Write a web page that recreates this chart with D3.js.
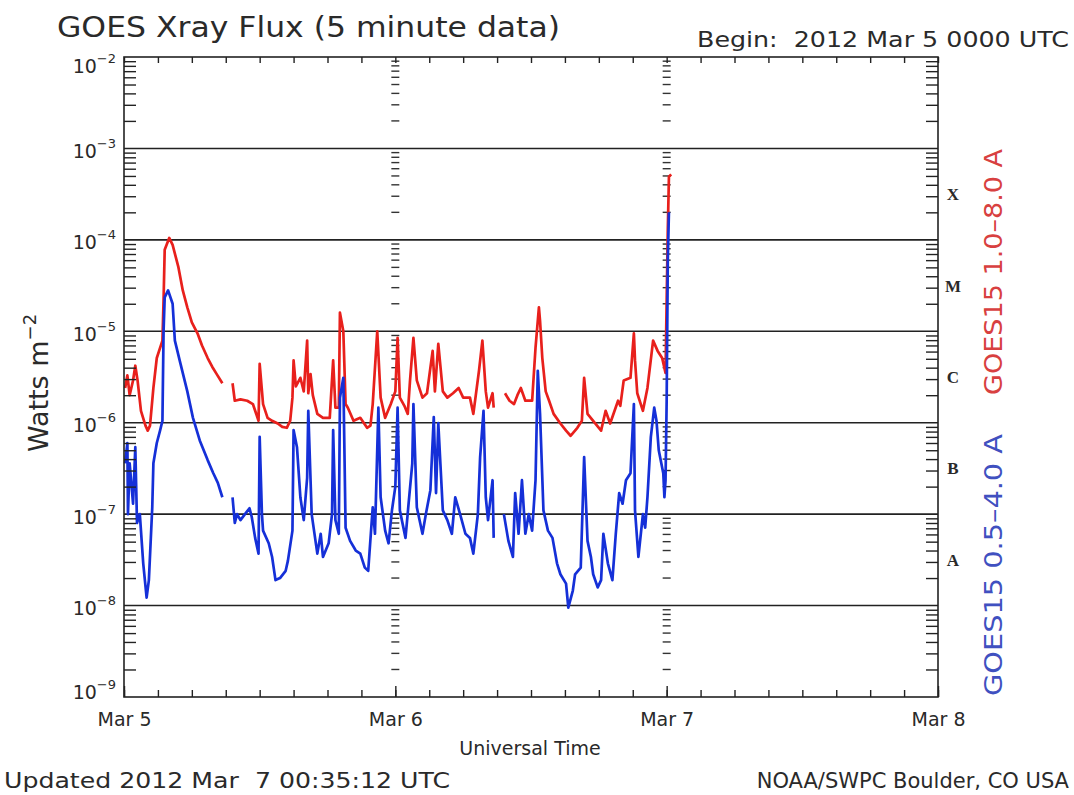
<!DOCTYPE html>
<html lang="en">
<head>
<meta charset="UTF-8">
<title>GOES Xray Flux</title>
<script src="https://cdn.jsdelivr.net/npm/d3@7"></script>
<style>
  body { margin: 0; background: #fff; }
  svg { display: block; font-family: "DejaVu Sans", sans-serif; }
  text { fill: #2a2a2a; white-space: pre; }
</style>
</head>
<body>
<svg width="1074" height="795"></svg>
<script>
// hours after 2012 Mar 5 00:00 UTC, flux in W m-2 (null = data gap)
var longHours = [0.1,0.3,0.5,0.8,1.0,1.2,1.5,1.9,2.1,2.3,
  2.6,2.9,3.4,3.5,3.6,4.0,4.3,4.8,5.2,5.6,
  6.0,6.5,6.9,7.4,7.8,8.2,8.7,9.0,9.6,9.8,
  10.3,10.9,11.4,11.9,12.0,12.3,12.7,13.1,13.6,14.0,
  14.4,14.7,14.9,15.0,15.2,15.6,15.9,16.2,16.3,16.5,
  16.7,17.1,17.6,18.2,18.5,18.7,19.0,19.1,19.4,19.6,
  19.8,20.3,20.9,21.5,21.8,22.0,22.4,22.7,23.1,23.6,
  24.0,24.2,24.4,24.8,25.1,25.3,25.6,25.9,26.4,26.8,
  27.3,27.5,27.8,28.2,28.6,29.1,29.6,30.0,30.6,30.9,
  31.4,31.7,32.0,32.2,32.6,32.7,33.0,33.7,34.1,34.5,
  34.8,35.1,35.5,36.1,36.4,36.7,36.8,37.0,37.3,37.6,
  38.0,38.6,39.1,39.5,40.1,40.5,40.7,41.0,41.5,42.2,
  42.6,43.0,43.7,43.9,44.2,44.8,45.1,45.2,45.4,45.9,
  46.3,46.8,47.2,47.6,47.9,48.0,48.1,48.2,48.4]
var longFlux = [2.4e-6,3.3e-6,2.0e-6,2.9e-6,4.2e-6,2.9e-6,1.35e-6,9.3e-7,8.2e-7,9.3e-7,
  2.4e-6,5.1e-6,7.9e-6,2.2e-5,7.8e-5,1.05e-4,8.8e-5,5.1e-5,2.8e-5,1.83e-5,
  1.25e-5,9.5e-6,7.0e-6,5.1e-6,4.1e-6,3.4e-6,2.7e-6,null,2.7e-6,1.74e-6,
  1.8e-6,1.74e-6,1.6e-6,1.05e-6,4.4e-6,1.6e-6,1.13e-6,1.05e-6,9.8e-7,9.0e-7,
  8.8e-7,1.05e-6,1.88e-6,4.8e-6,2.5e-6,3.1e-6,2.2e-6,7.9e-6,2.1e-6,3.4e-6,
  2.0e-6,1.25e-6,1.13e-6,1.13e-6,4.8e-6,1.46e-6,1.46e-6,1.6e-5,1.0e-5,1.6e-6,
  1.46e-6,1.05e-6,1.13e-6,8.8e-7,9.3e-7,1.6e-6,1.0e-5,1.88e-6,1.13e-6,1.6e-6,
  2.2e-6,8.5e-6,1.88e-6,1.53e-6,1.25e-6,2.9e-6,8.5e-6,2.9e-6,1.88e-6,2.1e-6,
  6.1e-6,2.2e-6,7.3e-6,2.2e-6,1.88e-6,2.1e-6,2.4e-6,1.88e-6,1.88e-6,1.25e-6,
  3.7e-6,7.9e-6,2.2e-6,1.46e-6,2.1e-6,1.46e-6,null,2.1e-6,1.74e-6,1.6e-6,
  2.0e-6,2.4e-6,1.74e-6,1.74e-6,6.6e-6,1.83e-5,1.3e-5,5.1e-6,2.2e-6,1.74e-6,
  1.25e-6,9.8e-7,8.2e-7,7.2e-7,8.8e-7,1.05e-6,3.1e-6,1.25e-6,1.05e-6,8.2e-7,
  1.35e-6,9.8e-7,1.74e-6,1.53e-6,2.9e-6,3.1e-6,9.5e-6,4.8e-6,2.1e-6,1.35e-6,
  2.4e-6,7.9e-6,6.1e-6,5.1e-6,3.5e-6,2.2e-5,1.29e-4,4.9e-4,5.2e-4]

var shortHours = [0.1,0.3,0.35,0.5,0.8,1.0,1.15,1.4,1.7,2.0,
  2.2,2.5,2.6,2.9,3.2,3.4,3.5,3.6,3.9,4.3,
  4.5,5.0,5.6,6.1,6.7,7.4,7.9,8.3,8.7,9.0,
  9.6,9.8,10.0,10.3,10.7,11.1,11.3,11.6,11.9,12.0,
  12.2,12.3,12.8,13.1,13.4,13.8,14.3,14.5,14.9,15.0,
  15.3,15.6,15.9,16.2,16.3,16.6,17.1,17.4,17.6,18.1,
  18.4,18.5,18.7,19.0,19.1,19.4,19.6,20.0,20.5,20.9,
  21.3,21.6,22.0,22.2,22.5,22.7,23.1,23.4,23.7,24.0,
  24.2,24.4,24.9,25.2,25.5,25.6,25.9,26.4,26.7,27.1,
  27.4,27.6,27.8,28.2,28.6,29.0,29.3,29.8,30.2,30.6,
  30.9,31.3,31.5,31.8,32.0,32.2,32.6,32.7,33.0,33.6,
  34.0,34.4,34.6,34.9,35.2,35.5,35.8,36.1,36.4,36.6,
  36.8,37.1,37.5,37.9,38.3,38.6,39.1,39.3,39.7,39.9,
  40.4,40.7,41.0,41.3,41.5,41.9,42.2,42.4,42.8,43.2,
  43.5,43.8,44.1,44.4,44.8,45.1,45.2,45.5,45.9,46.1,
  46.3,46.6,46.9,47.1,47.3,47.7,47.8,47.9,48.0,48.1,
  48.2]
var shortFlux = [3.6e-7,6.0e-7,1.0e-7,3.6e-7,1.3e-7,5.4e-7,8.0e-8,1.0e-7,2.9e-8,1.22e-8,
  1.9e-8,1.19e-7,3.6e-7,6.0e-7,8.3e-7,1.05e-6,1.0e-5,2.35e-5,2.8e-5,2.0e-5,
  7.9e-6,4.4e-6,2.2e-6,1.13e-6,6.4e-7,3.9e-7,2.8e-7,2.2e-7,1.53e-7,null,
  1.53e-7,8.0e-8,1.0e-7,8.6e-8,1.0e-7,1.16e-7,9.3e-8,5.5e-8,3.7e-8,7.0e-7,
  1.0e-7,6.6e-8,4.8e-8,3.4e-8,1.9e-8,2.0e-8,2.4e-8,3.1e-8,6.6e-8,8.3e-7,
  5.4e-7,1.53e-7,8.6e-8,2.5e-7,1.35e-6,1.0e-7,3.7e-8,6.1e-8,3.4e-8,4.8e-8,
  1.0e-7,8.3e-7,8.6e-8,6.1e-8,1.88e-6,3.1e-6,7.1e-8,5.1e-8,4.0e-8,3.7e-8,
  2.6e-8,2.4e-8,1.19e-7,6.1e-8,1.46e-6,1.53e-7,6.6e-8,4.8e-8,1.1e-7,2.0e-7,
  1.46e-6,1.1e-7,5.5e-8,1.42e-7,3.6e-7,1.6e-6,1.19e-7,6.1e-8,1.0e-7,1.83e-7,
  1.15e-6,1.7e-7,9.9e-7,1.1e-7,8.6e-8,6.1e-8,1.53e-7,9.3e-8,6.1e-8,5.5e-8,
  3.7e-8,1.0e-7,4.2e-7,1.35e-6,1.53e-7,8.6e-8,2.35e-7,5.5e-8,null,1.0e-7,
  5.1e-8,3.4e-8,1.7e-7,6.1e-8,2.35e-7,6.1e-8,1.0e-7,6.6e-8,2.35e-7,3.7e-6,
  1.25e-6,1.1e-7,6.6e-8,5.5e-8,2.9e-8,2.2e-8,1.74e-8,9.5e-9,1.46e-8,2.2e-8,
  2.6e-8,4.2e-7,5.1e-8,3.4e-8,2.2e-8,1.58e-8,1.9e-8,6.1e-8,2.9e-8,1.9e-8,
  6.1e-8,1.7e-7,1.3e-7,2.35e-7,2.8e-7,1.6e-6,1.1e-7,3.4e-8,1.0e-7,7.1e-8,
  1.53e-7,7.0e-7,1.46e-6,1.05e-6,5.0e-7,2.8e-7,1.53e-7,2.35e-7,1.74e-6,6.0e-5,
  2.0e-4]

var dayLabels = ["Mar 5", "Mar 6", "Mar 7", "Mar 8"]
var classLetters = ["X", "M", "C", "B", "A"]
var classBase = [1e-4, 1e-5, 1e-6, 1e-7, 1e-8]

var svg = d3.select("svg")
// note: "top" is taken by window.top, so plot edges get a prefix
var pLeft = 124, pRight = 938, pTop = 57, pBottom = 697
var t0 = Date.UTC(2012, 2, 5)
var hr = h => new Date(t0 + h * 3600e3)

var x = d3.scaleUtc().domain([hr(0), hr(72)]).range([pLeft, pRight])
var y = d3.scaleLog().domain([1e-9, 1e-2]).range([pBottom, pTop])

function isDecade(t) { var l = Math.log10(t); return Math.abs(l - Math.round(l)) < 1e-9 }
var decades = y.ticks().filter(isDecade)
var minors = y.ticks().filter(t => !isDecade(t))
var days = d3.utcDay.range(hr(0), hr(73))
var midDays = days.slice(1, 3)

// horizontal grid at each decade
svg.append("g").selectAll("line")
  .data(decades.filter(d => d > 1e-9 && d < 1e-2))
  .enter().append("line")
  .attr("x1", pLeft).attr("x2", pRight)
  .attr("y1", d => y(d)).attr("y2", d => y(d))
  .attr("stroke", "#222").attr("stroke-width", 1.6)

// dashed tick columns at Mar 6 and Mar 7
midDays.forEach(day => {
  svg.append("g").selectAll("line")
    .data(minors).enter().append("line")
    .attr("x1", x(day) - 4).attr("x2", x(day) + 4)
    .attr("y1", d => y(d)).attr("y2", d => y(d))
    .attr("stroke", "#333").attr("stroke-width", 1.4)
})

// data
var line = d3.line()
  .defined(d => d[1] != null)
  .x(d => x(hr(d[0])))
  .y(d => y(d[1]))

svg.append("path")
  .datum(d3.zip(longHours, longFlux))
  .attr("d", line)
  .attr("fill", "none").attr("stroke", "#e8201c").attr("stroke-width", 2.7)
  .attr("stroke-linejoin", "round")

svg.append("path")
  .datum(d3.zip(shortHours, shortFlux))
  .attr("d", line)
  .attr("fill", "none").attr("stroke", "#1530d8").attr("stroke-width", 2.7)
  .attr("stroke-linejoin", "round")

// axes
function clean(g) {
  g.select(".domain").remove()
  g.selectAll(".tick line").attr("stroke", "#222").attr("stroke-width", 1.4)
}
var hours3 = d3.utcHour.every(3).range(hr(0), hr(72.1))

svg.append("g").attr("transform", "translate(0," + pBottom + ")")
  .call(d3.axisBottom(x).tickValues(hours3).tickSize(-7).tickFormat(""))
  .call(clean)
svg.append("g").attr("transform", "translate(0," + pTop + ")")
  .call(d3.axisTop(x).tickValues(hours3).tickSize(-6).tickFormat(""))
  .call(clean)

var xLab = svg.append("g").attr("transform", "translate(0," + pBottom + ")")
  .call(d3.axisBottom(x).tickValues(days).tickSize(-11).tickPadding(16)
    .tickFormat((d, i) => dayLabels[i]))
  .call(clean)
xLab.selectAll("text").attr("font-size", 19).attr("font-family", "DejaVu Sans").attr("fill", "#2a2a2a")

svg.append("g").attr("transform", "translate(" + pLeft + ",0)")
  .call(d3.axisLeft(y).tickValues(minors).tickSize(-12).tickFormat(""))
  .call(clean)
svg.append("g").attr("transform", "translate(" + pRight + ",0)")
  .call(d3.axisRight(y).tickValues(minors).tickSize(-12).tickFormat(""))
  .call(clean)

var yLab = svg.append("g").attr("transform", "translate(" + pLeft + ",0)")
  .call(d3.axisLeft(y).tickValues(decades).tickSize(0).tickPadding(8).tickFormat(""))
  .call(clean)
yLab.selectAll(".tick text").each(function (d) {
  var e = Math.round(Math.log10(d))
  var dy = e === -2 ? 15 : e === -9 ? 1 : 9
  var t = d3.select(this).attr("dy", null).attr("y", dy)
    .attr("font-size", 19).attr("font-family", "DejaVu Sans").attr("fill", "#2a2a2a")
  t.text("10")
  t.append("tspan").attr("dy", -10).attr("font-size", 13).text("\u2212" + (-e))
})

// frame
svg.append("rect")
  .attr("x", pLeft).attr("y", pTop)
  .attr("width", pRight - pLeft).attr("height", pBottom - pTop)
  .attr("fill", "none").attr("stroke", "#222").attr("stroke-width", 1.6)

// flare class letters
svg.append("g").selectAll("text")
  .data(classBase).enter().append("text")
  .attr("x", 953).attr("y", d => y(d * Math.sqrt(10)))
  .attr("dy", "0.35em").attr("text-anchor", "middle")
  .attr("font-family", "Liberation Serif").attr("font-weight", "bold")
  .attr("font-size", 17)
  .text((d, i) => classLetters[i])

// texts
svg.append("text").attr("x", 57).attr("y", 37)
  .attr("font-size", 28).attr("textLength", 503).attr("lengthAdjust", "spacingAndGlyphs")
  .text("GOES Xray Flux (5 minute data)")

svg.append("text").attr("x", 697).attr("y", 47)
  .attr("font-size", 22).attr("textLength", 372).attr("lengthAdjust", "spacingAndGlyphs")
  .text("Begin:  2012 Mar 5 0000 UTC")

svg.append("text").attr("x", 530).attr("y", 755).attr("text-anchor", "middle")
  .attr("font-size", 19)
  .text("Universal Time")

svg.append("text").attr("x", 4).attr("y", 788)
  .attr("font-size", 21).attr("textLength", 446).attr("lengthAdjust", "spacingAndGlyphs")
  .text("Updated 2012 Mar  7 00:35:12 UTC")

svg.append("text").attr("x", 1069).attr("y", 788).attr("text-anchor", "end")
  .attr("font-size", 21)
  .text("NOAA/SWPC Boulder, CO USA")

var yTitle = svg.append("text")
  .attr("transform", "translate(48,383) rotate(-90)")
  .attr("text-anchor", "middle").attr("font-size", 27)
yTitle.append("tspan").text("Watts m")
yTitle.append("tspan").attr("dy", -12).attr("font-size", 18).text("\u22122")

svg.append("text")
  .attr("transform", "translate(1002,272) rotate(-90)")
  .attr("text-anchor", "middle").attr("font-size", 24)
  .attr("textLength", 246).attr("lengthAdjust", "spacingAndGlyphs")
  .style("fill", "#d84040")
  .text("GOES15 1.0\u20138.0 A")

svg.append("text")
  .attr("transform", "translate(1002,565) rotate(-90)")
  .attr("text-anchor", "middle").attr("font-size", 24)
  .attr("textLength", 262).attr("lengthAdjust", "spacingAndGlyphs")
  .style("fill", "#4050c0")
  .text("GOES15 0.5\u20134.0 A")
</script>
</body>
</html>
